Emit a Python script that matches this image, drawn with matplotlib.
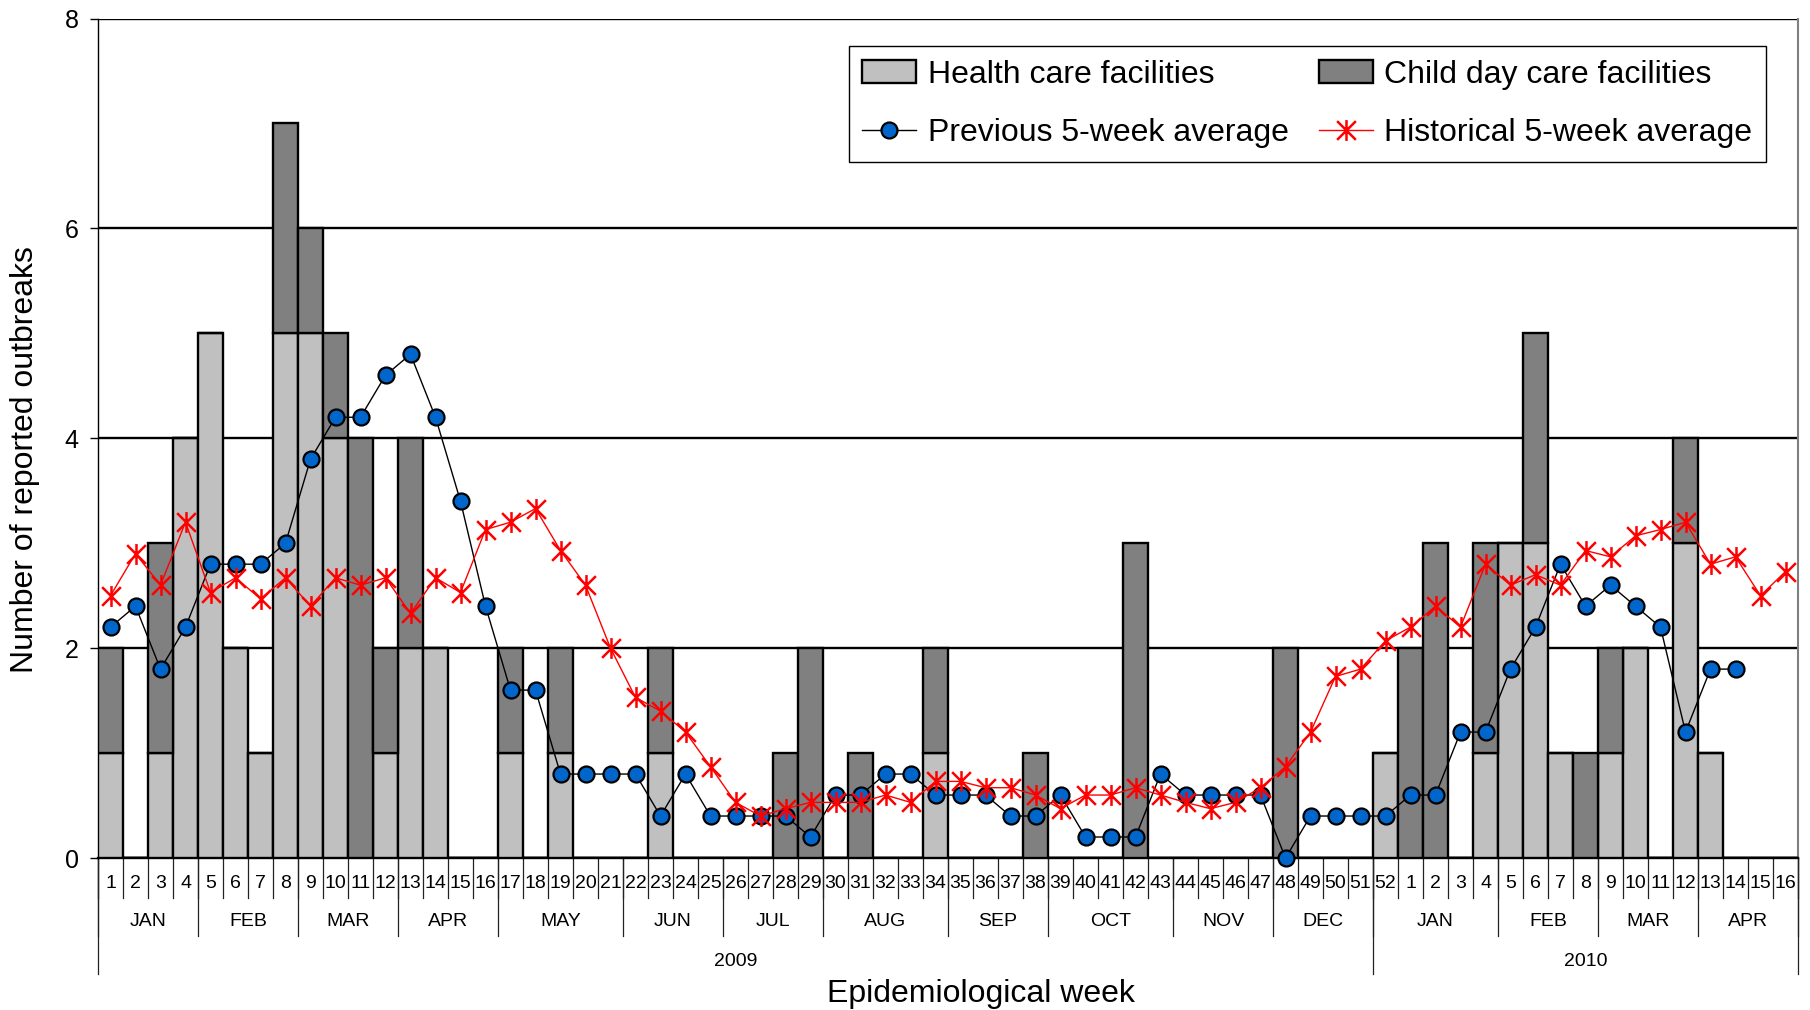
import matplotlib
matplotlib.use("Agg")
import matplotlib.pyplot as plt
import numpy as np
from matplotlib.path import Path
from matplotlib.patches import Patch
from matplotlib.lines import Line2D

plt.rcParams['font.family'] = ['Liberation Sans', 'DejaVu Sans']

# ---------------- data ----------------
week_labels = [str(w) for w in range(1, 53)] + [str(w) for w in range(1, 17)]

health_care = [1, 0, 1, 4, 5, 2, 1, 5, 5, 4, 0, 1, 2, 2, 0, 0, 1, 0, 1, 0,
               0, 0, 1, 0, 0, 0, 0, 0, 0, 0, 0, 0, 0, 1, 0, 0, 0, 0, 0, 0,
               0, 0, 0, 0, 0, 0, 0, 0, 0, 0, 0, 1,
               0, 0, 0, 1, 3, 3, 1, 0, 1, 2, 0, 3, 1, 0, 0, 0]

child_day_care = [1, 0, 2, 0, 0, 0, 0, 2, 1, 1, 4, 1, 2, 0, 0, 0, 1, 0, 1, 0,
                  0, 0, 1, 0, 0, 0, 0, 1, 2, 0, 1, 0, 0, 1, 0, 0, 0, 1, 0, 0,
                  0, 3, 0, 0, 0, 0, 0, 2, 0, 0, 0, 0,
                  2, 3, 0, 2, 0, 2, 0, 1, 1, 0, 0, 1, 0, 0, 0, 0]

previous_avg = [2.2, 2.4, 1.8, 2.2, 2.8, 2.8, 2.8, 3.0, 3.8, 4.2,
                4.2, 4.6, 4.8, 4.2, 3.4, 2.4, 1.6, 1.6, 0.8, 0.8,
                0.8, 0.8, 0.4, 0.8, 0.4, 0.4, 0.4, 0.4, 0.2, 0.6,
                0.6, 0.8, 0.8, 0.6, 0.6, 0.6, 0.4, 0.4, 0.6, 0.2,
                0.2, 0.2, 0.8, 0.6, 0.6, 0.6, 0.6, 0.0, 0.4, 0.4,
                0.4, 0.4,
                0.6, 0.6, 1.2, 1.2, 1.8, 2.2, 2.8, 2.4, 2.6, 2.4,
                2.2, 1.2, 1.8, 1.8, np.nan, np.nan]

historical_avg = [2.5, 2.9, 2.6, 3.2, 2.53, 2.67, 2.47, 2.67, 2.4, 2.67,
                  2.6, 2.67, 2.33, 2.67, 2.53, 3.13, 3.2, 3.33, 2.93, 2.6,
                  2.0, 1.53, 1.4, 1.2, 0.87, 0.53, 0.4, 0.47, 0.53, 0.53,
                  0.53, 0.6, 0.53, 0.73, 0.73, 0.67, 0.67, 0.6, 0.47, 0.6,
                  0.6, 0.67, 0.6, 0.53, 0.47, 0.53, 0.67, 0.87, 1.2, 1.73,
                  1.8, 2.07,
                  2.2, 2.4, 2.2, 2.8, 2.6, 2.7, 2.6, 2.93, 2.87, 3.07,
                  3.13, 3.2, 2.8, 2.87, 2.5, 2.73]

month_labels = ['JAN', 'FEB', 'MAR', 'APR', 'MAY', 'JUN', 'JUL', 'AUG', 'SEP',
                'OCT', 'NOV', 'DEC', 'JAN', 'FEB', 'MAR', 'APR']
month_weeks = [4, 4, 4, 4, 5, 4, 4, 5, 4, 5, 4, 4, 5, 4, 4, 4]
year_labels = ['2009', '2010']
year_weeks = [51, 17]

series_labels = ['Health care facilities', 'Previous 5-week average',
                 'Child day care facilities', 'Historical 5-week average']

# ---------------- figure ----------------
W, H = 1810, 1010
fig = plt.figure(figsize=(W / 100, H / 100), dpi=100)
ax_l, ax_r, ax_t, ax_b = 98, 1798, 18.5, 858
ax = fig.add_axes([ax_l / W, 1 - ax_b / H, (ax_r - ax_l) / W, (ax_b - ax_t) / H])
axh = ax_b - ax_t
axw = ax_r - ax_l

n = len(week_labels)
x = np.arange(n) + 0.5

LIGHT = '#C0C0C0'
DARK = '#808080'
ax.bar(x, health_care, width=1.0, color=LIGHT, edgecolor='black', linewidth=1.7, zorder=3)
ax.bar(x, child_day_care, width=1.0, bottom=health_care, color=DARK,
       edgecolor='black', linewidth=1.7, zorder=3)

star = Path([(0, -1), (0, 1), (-0.9, -0.9), (0.9, 0.9), (-0.9, 0.9), (0.9, -0.9)],
            [Path.MOVETO, Path.LINETO, Path.MOVETO, Path.LINETO, Path.MOVETO, Path.LINETO])

prev_style = dict(color='black', lw=1.0, marker='o', ms=11.5, mfc='#0066CC',
                  mec='black', mew=1.6)
hist_style = dict(color='red', lw=1.0, marker=star, ms=15, mec='red', mfc='none', mew=1.8)

ax.plot(x, previous_avg, zorder=5, clip_on=False, **prev_style)
ax.plot(x, historical_avg, zorder=6, clip_on=False, **hist_style)

ax.set_xlim(0, n)
ax.set_ylim(0, 8)
ax.set_yticks([0, 2, 4, 6, 8])
ax.set_yticklabels(['0', '2', '4', '6', '8'], fontsize=18)
ax.tick_params(axis='y', direction='out', length=6, width=1, pad=8, colors='black')
ax.set_xticks([])
ax.yaxis.grid(True, color='black', linewidth=1.7)
ax.set_axisbelow(True)
ax.spines['top'].set_visible(False)
ax.spines['left'].set_color('black')
ax.spines['left'].set_linewidth(1.0)
ax.spines['right'].set_color('#808080')
ax.spines['right'].set_linewidth(1.5)
ax.spines['bottom'].set_color('black')
ax.spines['bottom'].set_linewidth(1.7)

ax.set_ylabel('Number of reported outbreaks', fontsize=23)
ax.yaxis.set_label_coords((40 - ax_l) / axw, 0.475)

# ---------------- multi-level x axis ----------------
trans = ax.get_xaxis_transform()


def yf(px):
    return -px / axh


SEP = '#222222'
for b in range(n + 1):
    ax.plot([b, b], [0, yf(40)], transform=trans, color=SEP, lw=0.9, clip_on=False)
for i, lab in enumerate(week_labels):
    ax.text(i + 0.5, yf(26), lab, transform=trans, ha='center', va='center', fontsize=14)

mb = np.concatenate([[0], np.cumsum(month_weeks)])
for b in mb:
    ax.plot([b, b], [0, yf(78)], transform=trans, color=SEP, lw=0.9, clip_on=False)
for i, lab in enumerate(month_labels):
    ax.text((mb[i] + mb[i + 1]) / 2, yf(64), lab, transform=trans, ha='center',
            va='center', fontsize=14)

yb = np.concatenate([[0], np.cumsum(year_weeks)])
for b in yb:
    ax.plot([b, b], [0, yf(116)], transform=trans, color=SEP, lw=0.9, clip_on=False)
for i, lab in enumerate(year_labels):
    ax.text((yb[i] + yb[i + 1]) / 2, yf(104), lab, transform=trans, ha='center',
            va='center', fontsize=14)

ax.text((981 - ax_l) / axw, yf(136), 'Epidemiological week', transform=ax.transAxes,
        ha='center', va='center', fontsize=23)

# ---------------- legend ----------------
handles = [Patch(facecolor=LIGHT, edgecolor='black', linewidth=1.7),
           Line2D([], [], **prev_style),
           Patch(facecolor=DARK, edgecolor='black', linewidth=1.7),
           Line2D([], [], **hist_style)]
leg = ax.legend(handles, series_labels, ncol=2, loc='upper right',
                bbox_to_anchor=(0.981, 0.967), fontsize=23, frameon=True,
                fancybox=False, edgecolor='black', framealpha=1, borderaxespad=0,
                handlelength=1.7, handletextpad=0.35, columnspacing=0.95,
                labelspacing=0.9, borderpad=0.42)
leg.get_frame().set_linewidth(1.0)
leg.set_zorder(10)

fig.savefig('out.png', dpi=100)
